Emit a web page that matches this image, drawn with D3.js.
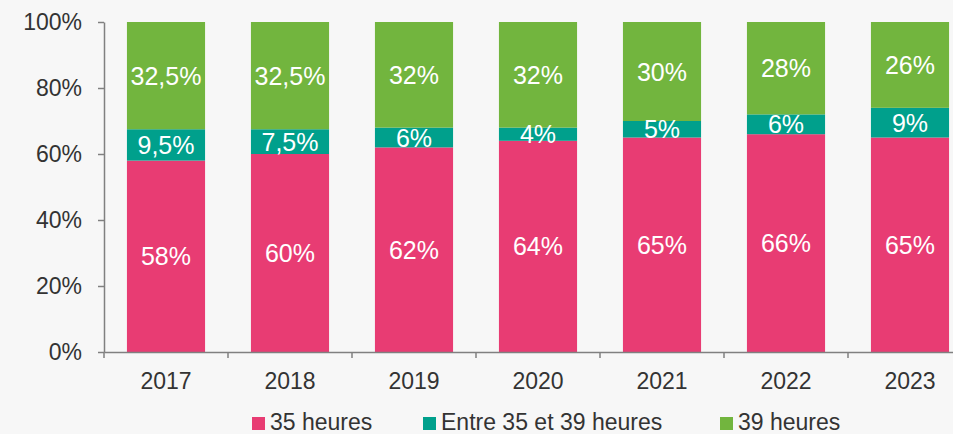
<!DOCTYPE html>
<html>
<head>
<meta charset="utf-8">
<script src="https://cdn.jsdelivr.net/npm/d3@7"></script>
<style>
  body { margin: 0; background: #f7f7f7; }
  svg { display: block; font-family: 'Liberation Sans', Arial, sans-serif; }
</style>
</head>
<body>
<div id="chart"></div>
<script>
const years = ['2017', '2018', '2019', '2020', '2021', '2022', '2023']
const h35 = [58, 60, 62, 64, 65, 66, 65]
const between = [9.5, 7.5, 6, 4, 5, 6, 9]
const h39 = [32.5, 32.5, 32, 32, 30, 28, 26]
const seriesNames = ['35 heures', 'Entre 35 et 39 heures', '39 heures']
const yTicks = [0, 20, 40, 60, 80, 100]

const colors = ['#e83c73', '#00a08c', '#72b53e']

const width = 953
const height = 434
const margin = { top: 22, left: 104, right: -19, bottom: 82 }

const svg = d3
  .select('#chart')
  .append('svg')
  .attr('width', width)
  .attr('height', height)

const g = svg
  .append('g')
  .attr('transform', 'translate(' + margin.left + ',' + margin.top + ')')

const innerW = width - margin.left - margin.right
const innerH = height - margin.top - margin.bottom

const xScale = d3
  .scaleBand()
  .domain(years)
  .range([0, innerW])
  .paddingInner(0.37)
  .paddingOuter(0.185)

const yScale = d3.scaleLinear().domain([0, 100]).range([innerH, 0])

// build rows for the stack
const rows = years.map((y, i) => ({ year: y, a: h35[i], b: between[i], c: h39[i] }))
const keys = ['a', 'b', 'c']
const stacked = d3.stack().keys(keys)(rows)

const fmt = v => String(v).replace('.', ',') + '%'

// bars
const layers = g
  .selectAll('.layer')
  .data(stacked)
  .enter()
  .append('g')
  .attr('fill', (d, i) => colors[i])

layers
  .selectAll('rect')
  .data(d => d)
  .enter()
  .append('rect')
  .attr('x', d => xScale(d.data.year))
  .attr('width', xScale.bandwidth())
  .attr('y', d => yScale(d[1]))
  .attr('height', d => yScale(d[0]) - yScale(d[1]))

// labels inside bars
stacked.forEach(layer => {
  g.selectAll('.lbl-' + layer.key)
    .data(layer)
    .enter()
    .append('text')
    .attr('x', d => xScale(d.data.year) + xScale.bandwidth() / 2)
    .attr('y', d => (yScale(d[0]) + yScale(d[1])) / 2)
    .attr('dy', '0.36em')
    .attr('text-anchor', 'middle')
    .attr('font-size', 25)
    .attr('fill', '#ffffff')
    .text(d => fmt(d.data[layer.key]))
})

// y axis
const yAxis = d3
  .axisLeft(yScale)
  .tickValues(yTicks)
  .tickFormat(d => d + '%')
  .tickSize(6)
  .tickSizeOuter(0)
  .tickPadding(16)

g.append('g')
  .attr('class', 'y-axis')
  .call(yAxis)
  .call(s => s.selectAll('text').attr('font-size', 23).attr('fill', '#333'))
  .call(s => s.selectAll('line, path').attr('stroke', '#808080').attr('stroke-width', 1.5))

// x axis (labels at band centres, ticks at band edges)
const xAxis = d3.axisBottom(xScale).tickSize(0).tickSizeOuter(0).tickPadding(21)

g.append('g')
  .attr('class', 'x-axis')
  .attr('transform', 'translate(0,' + innerH + ')')
  .call(xAxis)
  .call(s => s.selectAll('text').attr('font-size', 23).attr('fill', '#333'))
  .call(s => s.select('path').attr('stroke', '#808080').attr('stroke-width', 1.5))

const half = (xScale.step() - xScale.bandwidth()) / 2
g.append('g')
  .selectAll('line')
  .data(years.concat(['end']))
  .enter()
  .append('line')
  .attr('x1', d => (d === 'end' ? innerW : xScale(d) - half))
  .attr('x2', d => (d === 'end' ? innerW : xScale(d) - half))
  .attr('y1', innerH)
  .attr('y2', innerH + 6)
  .attr('stroke', '#808080')
  .attr('stroke-width', 1.5)

// legend
const legendX = [252, 423, 720]
const legend = svg
  .selectAll('.legend')
  .data(seriesNames)
  .enter()
  .append('g')
  .attr('transform', (d, i) => 'translate(' + legendX[i] + ',417)')

legend
  .append('rect')
  .attr('width', 13)
  .attr('height', 13)
  .attr('fill', (d, i) => colors[i])

legend
  .append('text')
  .attr('x', 18)
  .attr('y', 13)
  .attr('font-size', 23)
  .attr('fill', '#333')
  .text(d => d)
</script>
</body>
</html>
